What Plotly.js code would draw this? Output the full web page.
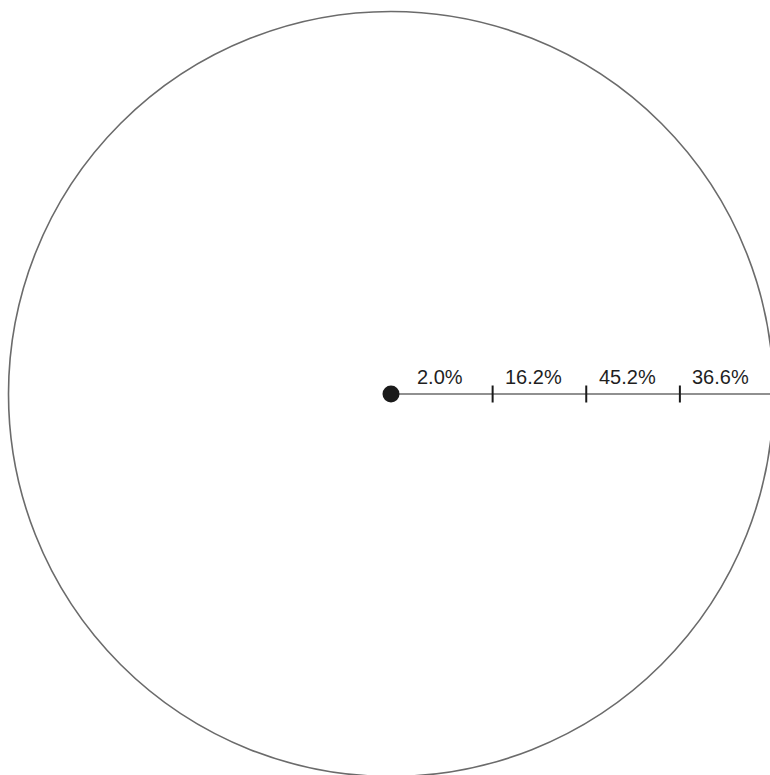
<!DOCTYPE html>
<html>
<head>
<meta charset="utf-8">
<script src="https://cdn.plot.ly/plotly-3.0.1.min.js"></script>
<style>html,body{margin:0;padding:0;background:#fff;}#chart{width:770px;height:775px;}</style>
</head>
<body>
<div id="chart"></div>
<script>
// Data
const categories = ["Band 1", "Band 2", "Band 3", "Band 4"];
const shares = [2.0, 16.2, 45.2, 36.6];
const shareLabels = ["2.0%", "16.2%", "45.2%", "36.6%"];

// Geometry (layout, in pixel-like axis units)
const R = 382.5;      // outer circle radius
const D = 8;          // centre dot radius
const step = (R - D) / categories.length;
const bounds = [0];
for (let i = 1; i <= categories.length; i++) bounds.push(D + i * step);

const traces = [];
// radius line
traces.push({
  x: [0, R + 5], y: [0, 0], mode: 'lines',
  line: {color: '#6b6b6b', width: 1.6}, hoverinfo: 'skip', showlegend: false
});
// ticks between bands
const tx = [], ty = [];
for (let i = 1; i < categories.length; i++) {
  tx.push(bounds[i], bounds[i], null);
  ty.push(-8.5, 8.5, null);
}
traces.push({
  x: tx, y: ty, mode: 'lines',
  line: {color: '#1a1a1a', width: 2}, hoverinfo: 'skip', showlegend: false
});
// centre dot
traces.push({
  x: [0], y: [0], mode: 'markers',
  marker: {size: 17, color: '#1a1a1a'}, hoverinfo: 'skip', showlegend: false
});

const annotations = categories.map((c, i) => ({
  x: (i + 0.5) * step + 2, y: 4.5,
  xref: 'x', yref: 'y', text: shareLabels[i], showarrow: false,
  xanchor: 'center', yanchor: 'bottom',
  font: {family: 'Liberation Sans, Arial, sans-serif', size: 20, color: '#1f1f1f'}
}));

const layout = {
  width: 770, height: 775,
  margin: {l: 0, r: 0, t: 0, b: 0, pad: 0},
  paper_bgcolor: '#fff', plot_bgcolor: '#fff',
  showlegend: false,
  xaxis: {range: [-391, 379], visible: false, fixedrange: true},
  yaxis: {range: [-381, 394], visible: false, fixedrange: true},
  shapes: [{
    type: 'circle', xref: 'x', yref: 'y',
    x0: -R, x1: R, y0: -R, y1: R,
    line: {color: '#6b6b6b', width: 1.6}, layer: 'below'
  }],
  annotations: annotations
};

Plotly.newPlot('chart', traces, layout, {displayModeBar: false, staticPlot: true});
</script>
</body>
</html>
